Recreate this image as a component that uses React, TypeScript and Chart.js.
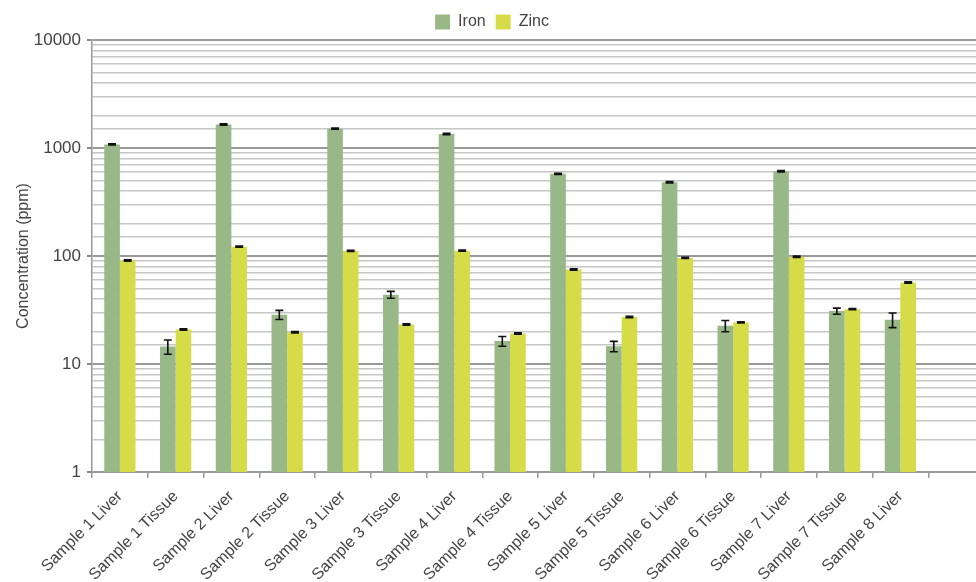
import React, { useEffect, useRef } from "react";
import { Chart, registerables } from "chart.js";

Chart.register(...registerables);

// Sample categories (last slot is an empty trailing category)
const categories: string[] = [
  "Sample 1 Liver",
  "Sample 1 Tissue",
  "Sample 2 Liver",
  "Sample 2 Tissue",
  "Sample 3 Liver",
  "Sample 3 Tissue",
  "Sample 4 Liver",
  "Sample 4 Tissue",
  "Sample 5 Liver",
  "Sample 5 Tissue",
  "Sample 6 Liver",
  "Sample 6 Tissue",
  "Sample 7 Liver",
  "Sample 7 Tissue",
  "Sample 8 Liver",
  "",
];

// Concentrations in ppm
const ironValues: (number | null)[] = [1080, 14.5, 1650, 28.6, 1510, 43.8, 1350, 16.3, 576, 14.6, 482, 22.6, 609, 30.9, 25.7, null];
const ironErrors: (number | null)[] = [15, 2.2, 25, 2.8, 20, 3.2, 20, 1.7, 8, 1.6, 7, 2.7, 9, 2.0, 4.0, null];
const zincValues: (number | null)[] = [90.8, 20.9, 122, 19.7, 111.6, 23.2, 112, 19.2, 75, 27.2, 96, 24.3, 98.4, 32.2, 56.9, null];
const zincErrors: (number | null)[] = [1.2, 0.3, 1.6, 0.3, 1.5, 0.3, 1.5, 0.3, 1.0, 0.4, 1.3, 0.3, 1.3, 0.4, 0.8, null];

// Y-axis range (log scale)
const yMin = 1;
const yMax = 10000;

const FONT = "'Liberation Sans', Arial, sans-serif";
const TEXT = "#444444";

const isDecade = (v: number) => {
  const l = Math.log10(v);
  return Math.abs(l - Math.round(l)) < 1e-9;
};

// Draws symmetric error bars on top of each bar using the dataset's "errors" array
const errorBarPlugin = {
  id: "errorBars",
  afterDatasetsDraw(chart: any) {
    const { ctx } = chart;
    const yScale = chart.scales.y;
    chart.data.datasets.forEach((ds: any, di: number) => {
      const meta = chart.getDatasetMeta(di);
      if (meta.hidden) return;
      meta.data.forEach((bar: any, i: number) => {
        const v = ds.data[i];
        const e = ds.errors ? ds.errors[i] : null;
        if (v == null || e == null) return;
        const x = bar.x;
        const yTop = yScale.getPixelForValue(v + e);
        const yBot = yScale.getPixelForValue(Math.max(v - e, yMin));
        const half = 4;
        ctx.save();
        ctx.strokeStyle = "#111111";
        ctx.lineWidth = 1.6;
        ctx.beginPath();
        ctx.moveTo(x, yTop);
        ctx.lineTo(x, yBot);
        ctx.moveTo(x - half, yTop);
        ctx.lineTo(x + half, yTop);
        ctx.moveTo(x - half, yBot);
        ctx.lineTo(x + half, yBot);
        ctx.stroke();
        ctx.restore();
      });
    });
  },
};

export default function App() {
  const canvasRef = useRef<HTMLCanvasElement | null>(null);

  useEffect(() => {
    document.body.style.margin = "0";
    document.body.style.overflow = "hidden";
    const canvas = canvasRef.current;
    if (!canvas) return;
    const chart = new Chart(canvas, {
      type: "bar",
      data: {
        labels: categories,
        datasets: [
          {
            label: "Iron",
            data: ironValues,
            errors: ironErrors,
            backgroundColor: "#98b987",
            borderWidth: 0,
            categoryPercentage: 0.56,
            barPercentage: 1,
          } as any,
          {
            label: "Zinc",
            data: zincValues,
            errors: zincErrors,
            backgroundColor: "#d6dc48",
            borderWidth: 0,
            categoryPercentage: 0.56,
            barPercentage: 1,
          } as any,
        ],
      },
      options: {
        responsive: false,
        animation: false,
        devicePixelRatio: 1,
        layout: { padding: { top: 4, left: 0, right: 0, bottom: 0 } },
        plugins: {
          legend: {
            display: true,
            position: "top",
            labels: {
              font: { family: FONT, size: 16 },
              color: TEXT,
              boxWidth: 15,
              boxHeight: 15,
              padding: 10,
            },
          },
          tooltip: { enabled: false },
        },
        scales: {
          x: {
            type: "category",
            grid: {
              display: true,
              drawOnChartArea: false,
              offset: true,
              color: "#999999",
              tickLength: 6,
              lineWidth: 1.5,
            },
            border: { display: true, color: "#999999", width: 2 },
            ticks: {
              font: { family: FONT, size: 16 },
              color: TEXT,
              maxRotation: 45,
              minRotation: 45,
              autoSkip: false,
              padding: 9,
            },
            afterFit(scale: any) {
              scale.height = 110;
            },
          },
          y: {
            type: "logarithmic",
            min: yMin,
            max: yMax,
            grid: {
              color: (ctx: any) => (ctx.tick && isDecade(ctx.tick.value) ? "#999999" : "#c6c6c6"),
              lineWidth: (ctx: any) => (ctx.tick && isDecade(ctx.tick.value) ? 2 : 1.5),
              tickColor: (ctx: any) => (ctx.tick && isDecade(ctx.tick.value) ? "#888888" : "rgba(0,0,0,0)"),
              tickLength: 5,
            },
            border: { display: true, color: "#999999", width: 1.5 },
            ticks: {
              font: { family: FONT, size: 17 },
              color: TEXT,
              padding: 6,
              autoSkip: false,
              callback: (value: any) => (isDecade(Number(value)) ? String(Number(value)) : ""),
            },
            title: {
              display: true,
              text: "Concentration (ppm)",
              font: { family: FONT, size: 16 },
              color: TEXT,
              padding: { top: 14, bottom: 0 },
            },
            afterFit(scale: any) {
              scale.width = 92;
            },
          },
        },
      } as any,
      plugins: [errorBarPlugin],
    });
    return () => chart.destroy();
  }, []);

  return (
    <div style={{ position: "fixed", left: 0, top: 0, width: 976, height: 582, overflow: "hidden", background: "#ffffff" }}>
      <canvas ref={canvasRef} width={984} height={582} style={{ display: "block" }} />
    </div>
  );
}
